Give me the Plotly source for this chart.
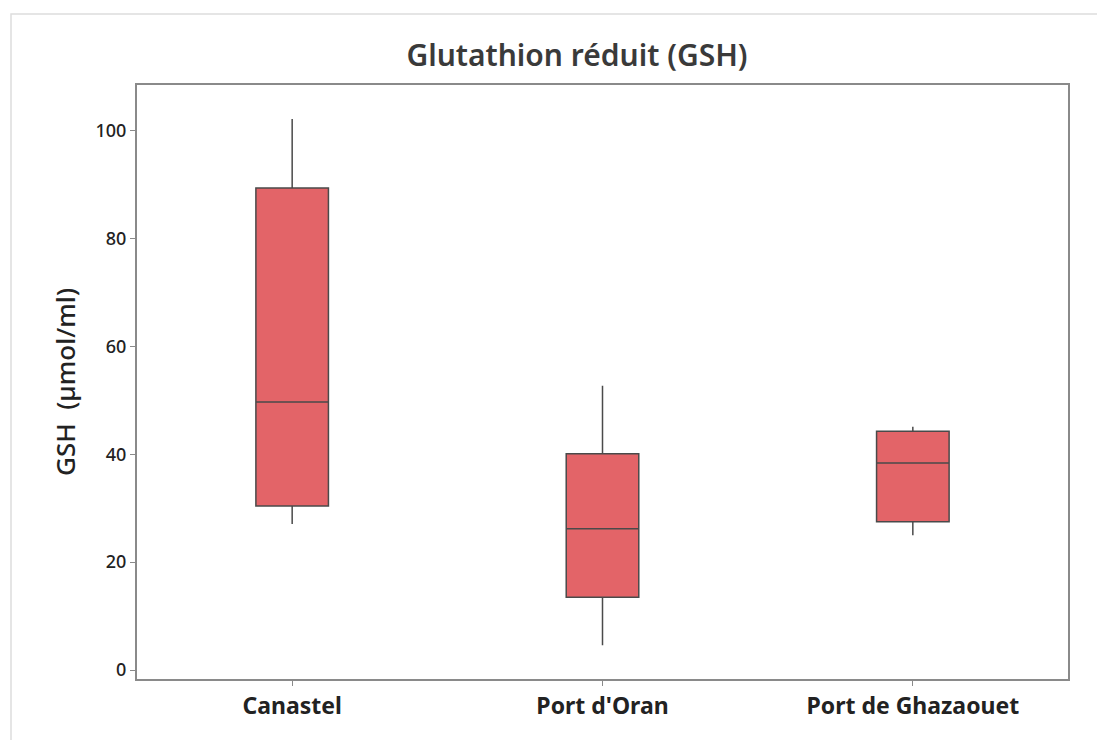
import plotly.graph_objects as go

categories = ["Canastel", "Port d'Oran", "Port de Ghazaouet"]
lower_whisker = [27.1, 4.6, 25.0]
q1_values = [30.4, 13.5, 27.5]
median_values = [49.7, 26.2, 38.4]
q3_values = [89.4, 40.1, 44.3]
upper_whisker = [102.2, 52.7, 45.1]
y_ticks = [0, 20, 40, 60, 80, 100]

FONT = "Noto Sans"
W, H = 1097, 732
OFF = 8  # page body margin
L, T = 137 - OFF, 85 - OFF
R = W + OFF - 1068
B = H + OFF - 679
PW = W - L - R
PH = H - T - B

fig = go.Figure()
fig.add_trace(go.Box(
    x=categories,
    q1=q1_values,
    median=median_values,
    q3=q3_values,
    lowerfence=lower_whisker,
    upperfence=upper_whisker,
    fillcolor="#E36468",
    line=dict(color="#4a4a4a", width=1.5),
    whiskerwidth=0,
    boxpoints=False,
    showlegend=False,
    hoverinfo="skip",
))

fig.update_layout(
    width=W, height=H,
    margin=dict(l=L, r=R, t=T, b=B),
    paper_bgcolor="white", plot_bgcolor="white",
    boxgap=0.666,
    font=dict(family=FONT, color="#222"),
    title=dict(text="Glutathion réduit (GSH)", xref="paper",
               x=(577 - 137) / PW, xanchor="center",
               y=1 - (55 - OFF) / H, yanchor="middle",
               font=dict(family=FONT, size=30, color="#3a3a3a", weight=600)),
    xaxis=dict(
        type="category", range=[-0.5, 2.5],
        showline=True, linecolor="#8a8a8a", linewidth=2, mirror=True,
        ticks="outside", ticklen=5, tickcolor="#8a8a8a",
        tickfont=dict(family=FONT, size=23, color="#222", weight="bold"),
        showgrid=False, zeroline=False,
    ),
    yaxis=dict(
        range=[-1.67, 108.5],
        tickvals=y_ticks,
        showline=True, linecolor="#8a8a8a", linewidth=2, mirror=True,
        ticks="outside", ticklen=5, tickcolor="#8a8a8a",
        tickfont=dict(family=FONT, size=18, color="#222", weight=500),
        title=dict(text="GSH  (µmol/ml)", standoff=12,
                   font=dict(family=FONT, size=26, color="#222", weight=500)),
        showgrid=False, zeroline=False,
    ),
)

# faint outer frame
fig.add_shape(type="rect", xref="paper", yref="paper",
              x0=(11 - 137) / PW, x1=(1103 - 137) / PW,
              y0=(679 - 760) / PH, y1=(679 - 14) / PH,
              line=dict(color="#dddddd", width=1.5), layer="below")

fig.write_html("out.html")
